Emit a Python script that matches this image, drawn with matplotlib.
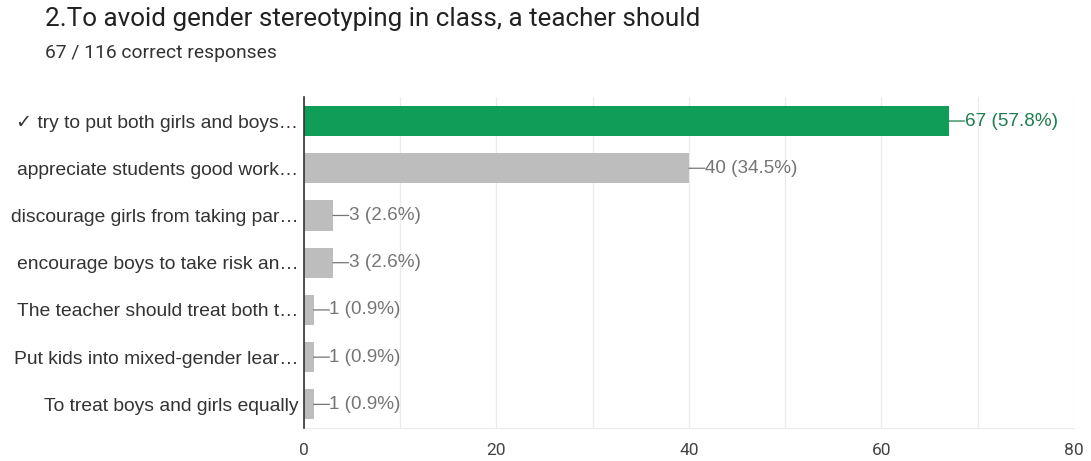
import matplotlib.pyplot as plt
from matplotlib.ticker import MultipleLocator

plt.rcParams['font.family'] = ['Roboto', 'DejaVu Sans']
LABEL_FONT = ['Liberation Sans', 'DejaVu Sans']

title = "2.To avoid gender stereotyping in class, a teacher should"
subtitle = "67 / 116 correct responses"
categories = [
    "\u2713 try to put both girls and boys\u2026",
    "appreciate students good work\u2026",
    "discourage girls from taking par\u2026",
    "encourage boys to take risk an\u2026",
    "The teacher should treat both t\u2026",
    "Put kids into mixed-gender lear\u2026",
    "To treat boys and girls equally",
]
counts = [67, 40, 3, 3, 1, 1, 1]
percents = [57.8, 34.5, 2.6, 2.6, 0.9, 0.9, 0.9]
correct = [True, False, False, False, False, False, False]

GREEN = "#0f9d58"
GRAY = "#bdbdbd"
LABEL_GRAY = "#757575"

fig = plt.figure(figsize=(10.91, 4.61), dpi=100)
ax = fig.add_axes([0.2786, 0.0716, 0.7058, 0.7171])

ypos = list(range(len(categories)))
colors = [GREEN if c else GRAY for c in correct]
ax.barh(ypos, counts, height=0.64, color=colors, zorder=2)

for y, v, p, c in zip(ypos, counts, percents, correct):
    col = "#1e7d4f" if c else LABEL_GRAY
    ax.annotate("", xy=(v, y), xytext=(v + 1.65, y),
                arrowprops=dict(arrowstyle='-', color=col, lw=0.9,
                                shrinkA=0, shrinkB=0), zorder=3)
    ax.text(v + 1.65, y, f"{v} ({p}%)", va='center', ha='left',
            fontsize=13.6, color=col, family=LABEL_FONT, zorder=3)

ax.set_xlim(0, 80)
ax.set_ylim(len(categories) - 0.5, -0.5)
ax.set_yticks(ypos)
ax.set_yticklabels(categories, fontsize=13.9, color="#333333",
                   family=LABEL_FONT)
ax.xaxis.set_major_locator(MultipleLocator(20))
ax.xaxis.set_minor_locator(MultipleLocator(10))
ax.tick_params(axis='x', which='both', length=0, labelsize=12.5,
               labelcolor="#444444", pad=11)
ax.tick_params(axis='y', length=0, pad=4)
ax.grid(axis='x', which='both', color="#ebebeb", lw=0.9, zorder=0)

for side in ('top', 'right'):
    ax.spines[side].set_visible(False)
ax.spines['bottom'].set_color("#ebebeb")
ax.spines['left'].set_color("#333333")
ax.spines['left'].set_linewidth(1.2)
ax.spines['left'].set_zorder(4)

fig.text(0.0412, 0.9436, title, fontsize=18.7, color="#212121", va='baseline')
fig.text(0.0412, 0.8742, subtitle, fontsize=13.9, color="#333333", va='baseline')

fig.savefig("out.png", dpi=100, facecolor='white')
